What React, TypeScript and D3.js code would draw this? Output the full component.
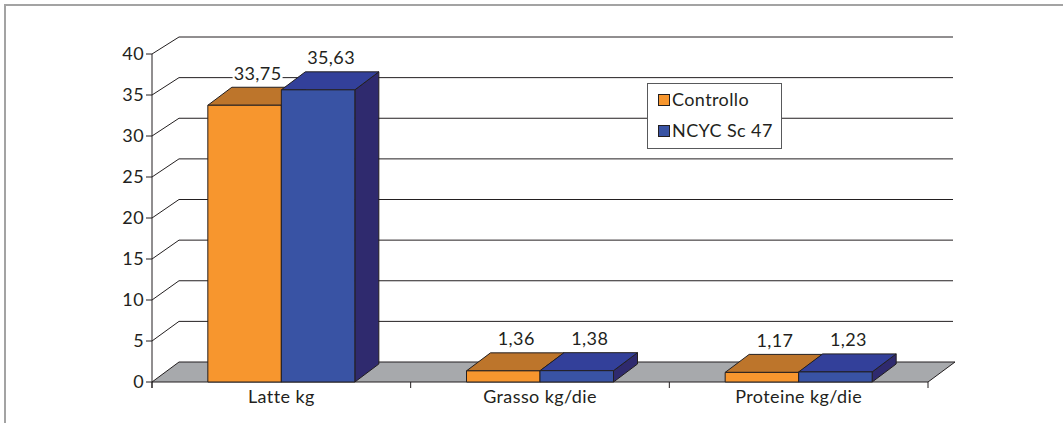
import React from "react";
import * as d3 from "d3";

// Dairy trial: milk yield and milk components per cow, control vs. yeast supplement
const categories = ["Latte kg", "Grasso kg/die", "Proteine kg/die"];
const seriesNames = ["Controllo", "NCYC Sc 47"];
const controllo = [33.75, 1.36, 1.17];
const ncyc = [35.63, 1.38, 1.23];
const yTicks = [0, 5, 10, 15, 20, 25, 30, 35, 40];

const W = 1063;
const H = 423;
const FONT = "Lato, 'Open Sans', sans-serif";
const FS = 18;
const LS = 0.4;
const INK = "#231f20";

// front plane / back wall geometry of the 3D frame
const depthX = 27;
const barDepthX = 24;
const barDepthY = -18;

const palette = {
  Controllo: { front: "#f7962e", top: "#bd752b", side: "#a35f1f" },
  "NCYC Sc 47": { front: "#3953a4", top: "#33409a", side: "#2f2a6e" },
};

const fmt = (v: number) => v.toFixed(2).replace(".", ",");

export default function App() {
  const y = d3.scaleLinear().domain([0, 40]).range([382, 54]);
  const yBack = d3.scaleLinear().domain([0, 40]).range([362, 37]);
  const x0 = d3.scaleBand<string>().domain(categories).range([152, 928]).padding(0);
  const groupW = 147;
  const x1 = d3.scaleBand<string>().domain(seriesNames).range([0, groupW]).padding(0);
  const off = (x0.bandwidth() - groupW) / 2;

  const values: Record<string, number[]> = { Controllo: controllo, "NCYC Sc 47": ncyc };
  const [x0L, x0R] = x0.range();
  const backRight = 953;

  const poly = (pts: [number, number][]) => pts.map((p) => p.join(",")).join(" ");

  return (
    <svg
      width={W}
      height={H}
      style={{ position: "absolute", left: 0, top: 0, background: "#fff" }}
      fontFamily={FONT}
      letterSpacing={LS}
    >
      {/* outer frame */}
      <rect x={5} y={5} width={W + 20} height={H + 20} fill="#fff" stroke="#a3a3a3" strokeWidth={2} />

      {/* floor */}
      <polygon
        points={poly([
          [x0L, y(0)],
          [x0R, y(0)],
          [x0R + depthX, yBack(0)],
          [x0L + depthX, yBack(0)],
        ])}
        fill="#a7a9ac"
        stroke={INK}
        strokeWidth={1}
      />

      {/* gridlines: left wall diagonals and back wall horizontals */}
      {yTicks.filter((t) => t > 0).map((t) => (
        <g key={t} stroke={INK} strokeWidth={1} fill="none">
          <line x1={x0L} y1={y(t)} x2={x0L + depthX} y2={yBack(t)} />
          <line x1={x0L + depthX} y1={yBack(t)} x2={backRight} y2={yBack(t)} />
        </g>
      ))}

      {/* value axis */}
      <line x1={x0L} y1={y(40)} x2={x0L} y2={y(0) + 6} stroke={INK} />
      {yTicks.map((t) => (
        <g key={t}>
          <line x1={x0L - 6} x2={x0L} y1={y(t)} y2={y(t)} stroke={INK} />
          <text x={x0L - 8} y={y(t)} dy="0.36em" textAnchor="end" fontSize={FS} fill={INK}>
            {t}
          </text>
        </g>
      ))}

      {/* category axis */}
      {[...categories.map((c) => x0(c)!), x0R].map((xv, i) => (
        <line key={i} x1={xv} x2={xv} y1={y(0)} y2={y(0) + 6} stroke={INK} />
      ))}
      {categories.map((c) => (
        <text
          key={c}
          x={x0(c)! + x0.bandwidth() / 2}
          y={403}
          textAnchor="middle"
          fontSize={FS}
          fill={INK}
        >
          {c}
        </text>
      ))}

      {/* bars */}
      {categories.map((c, ci) => (
        <g key={c}>
          {seriesNames.map((s) => {
            const v = values[s][ci];
            const xl = x0(c)! + off + x1(s)!;
            const xr = xl + x1.bandwidth();
            const yt = y(v);
            const yb = y(0);
            const col = palette[s as keyof typeof palette];
            return (
              <g key={s} stroke={INK} strokeWidth={1} strokeLinejoin="round">
                <polygon
                  points={poly([
                    [xr, yt],
                    [xr + barDepthX, yt + barDepthY],
                    [xr + barDepthX, yb + barDepthY],
                    [xr, yb],
                  ])}
                  fill={col.side}
                />
                <polygon
                  points={poly([
                    [xl, yt],
                    [xr, yt],
                    [xr + barDepthX, yt + barDepthY],
                    [xl + barDepthX, yt + barDepthY],
                  ])}
                  fill={col.top}
                />
                <rect x={xl} y={yt} width={xr - xl} height={yb - yt} fill={col.front} />
              </g>
            );
          })}
        </g>
      ))}

      {/* data labels */}
      {categories.map((c, ci) =>
        seriesNames.map((s) => {
          const v = values[s][ci];
          const xl = x0(c)! + off + x1(s)!;
          const cx = xl + x1.bandwidth() / 2 + 13;
          const cy = y(v) + barDepthY - 14;
          const label = fmt(v);
          const w = label.length * 9.2 + 4;
          return (
            <g key={c + s}>
              <rect x={cx - w / 2} y={cy - 9} width={w} height={18} fill="#fff" />
              <text x={cx} y={cy} dy="0.36em" textAnchor="middle" fontSize={FS} fill={INK}>
                {label}
              </text>
            </g>
          );
        })
      )}

      {/* legend */}
      <g>
        <rect x={647.5} y={83.5} width={134} height={65} fill="#fff" stroke="#58595b" strokeWidth={1} />
        {seriesNames.map((s, i) => {
          const col = palette[s as keyof typeof palette];
          const ly = 100 + i * 31;
          return (
            <g key={s}>
              <rect x={658.5} y={ly - 5.5} width={11} height={11} fill={col.front} stroke={INK} strokeWidth={1} />
              <text x={672} y={ly} dy="0.36em" fontSize={FS} fill={INK}>
                {s}
              </text>
            </g>
          );
        })}
      </g>
    </svg>
  );
}
